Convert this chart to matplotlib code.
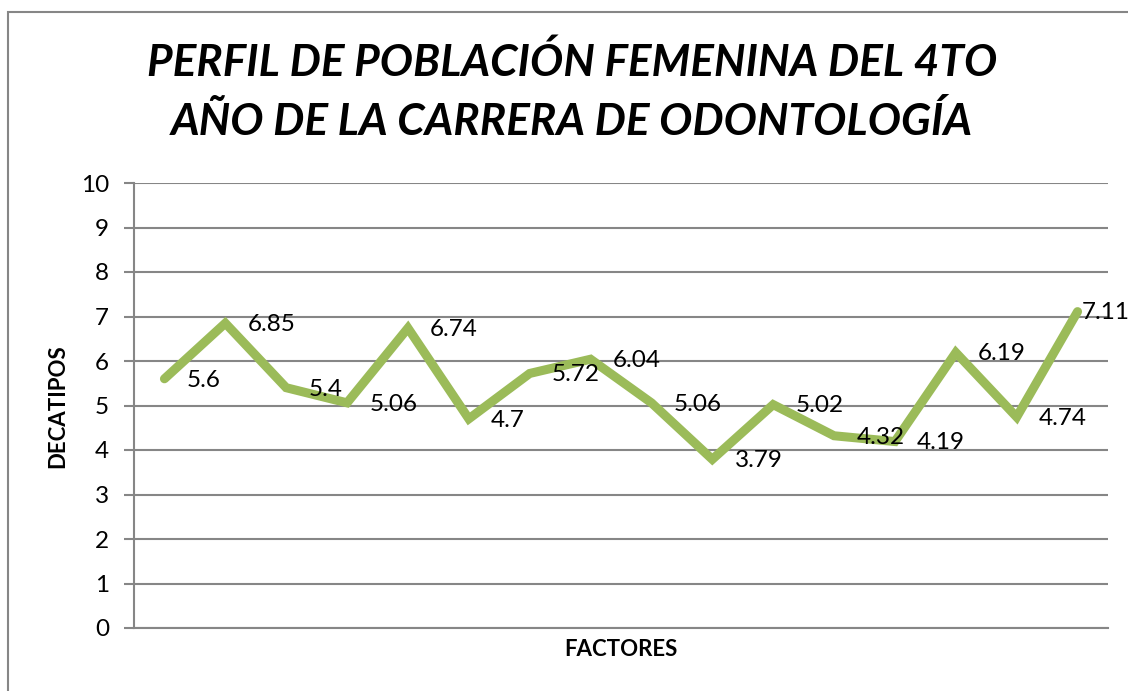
import matplotlib
matplotlib.use("Agg")
import matplotlib.pyplot as plt
from matplotlib.patches import Rectangle

# data
factores = list(range(1, 17))
decatipos = [5.6, 6.85, 5.4, 5.06, 6.74, 4.7, 5.72, 6.04,
             5.06, 3.79, 5.02, 4.32, 4.19, 6.19, 4.74, 7.11]
title = "PERFIL DE POBLACIÓN FEMENINA DEL 4TO\nAÑO DE LA CARRERA DE ODONTOLOGÍA"
y_ticks = list(range(0, 11))

plt.rcParams["font.family"] = ["Lato", "DejaVu Sans"]

W, H = 1128, 691
fig = plt.figure(figsize=(W / 100, H / 100), dpi=100)
ax = fig.add_axes([134 / W, 1 - 628 / H, (1108 - 134) / W, (628 - 183) / H])

grid_col = "#868686"
green = "#9BBB59"

x = list(range(len(decatipos)))
ax.plot(x, decatipos, color=green, lw=6.5, solid_joinstyle="miter",
        solid_capstyle="round", zorder=3)

for i, v in enumerate(decatipos):
    dx = 3 if i == len(decatipos) - 1 else 16
    ax.annotate(f"{v:g}", (i, v), xytext=(dx, -1), textcoords="offset points",
                ha="left", va="center", fontsize=17.5, color="black", zorder=4,
                annotation_clip=False)

ax.set_xlim(-0.5, len(decatipos) - 0.5)
ax.set_ylim(0, 10)
ax.set_yticks(y_ticks)
ax.set_xticks([])
ax.yaxis.grid(True, color=grid_col, lw=1.5)
ax.set_axisbelow(True)
ax.tick_params(axis="y", length=7, width=1.5, color=grid_col, pad=11,
               labelsize=17.5)
for s in ["top", "right"]:
    ax.spines[s].set_visible(False)
for s in ["left", "bottom"]:
    ax.spines[s].set_color(grid_col)
    ax.spines[s].set_linewidth(1.5)

fig.text(572 / W, 1 - 92 / H, title, ha="center", va="center",
         fontsize=31.8, fontweight="bold", fontstyle="italic",
         linespacing=1.52)
fig.text(621 / W, 1 - 650 / H, "FACTORES", ha="center", va="center",
         fontsize=16, fontweight="bold")
fig.text(58 / W, 1 - 406 / H, "DECATIPOS", ha="center", va="center",
         rotation=90, fontsize=16, fontweight="bold")

fig.patches.append(Rectangle((8 / W, -0.1), 1.2, 1.1 - 12 / H,
                             transform=fig.transFigure, fill=False,
                             edgecolor=grid_col, lw=1.5))

fig.savefig("out.png", dpi=100)
